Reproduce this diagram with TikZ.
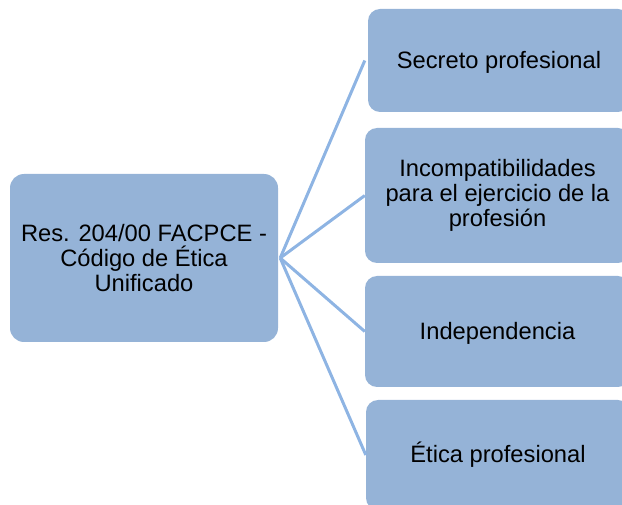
\documentclass[tikz,border=0pt]{standalone}
\usepackage{fontspec}
\setmainfont{Liberation Sans}
\definecolor{boxfill}{HTML}{95B3D7}
\definecolor{linkcol}{HTML}{8EB4E3}
\begin{document}
\begin{tikzpicture}[x=1pt,y=-1pt,
  box/.style={fill=boxfill, draw=none, rounded corners=12pt, align=center, inner sep=0pt,
    font=\fontsize{23.7}{24.7}\selectfont, text=black},
  oneline/.style={text height=17pt, text depth=1pt},
  link/.style={draw=linkcol, line width=3pt}]
\useasboundingbox (0,0) rectangle (622,505);
\clip (0,0) rectangle (622,505);
\node[box, rounded corners=14pt, minimum width=268pt, minimum height=168pt] (root) at (144,258) {Res. 204/00 FACPCE -\\Código de Ética\\Unificado};
\node[box, oneline, minimum width=262pt, minimum height=103pt] (b1) at (499,60.5) {Secreto profesional};
\node[box, minimum width=265pt, minimum height=135pt] (b2) at (497.5,195.5) {Incompatibilidades\\para el ejercicio de la\\profesión};
\node[box, oneline, minimum width=265pt, minimum height=111pt] (b3) at (497.5,331.5) {Independencia};
\node[box, oneline, minimum width=264pt, minimum height=110pt] (b4) at (498,455) {Ética profesional};
\coordinate (hub) at ([xshift=2pt]root.east);
\draw[link] (hub) -- ([xshift=-3pt]b1.west);
\draw[link] (hub) -- (b2.west);
\draw[link] (hub) -- (b3.west);
\draw[link] (hub) -- (b4.west);
\end{tikzpicture}
\end{document}
